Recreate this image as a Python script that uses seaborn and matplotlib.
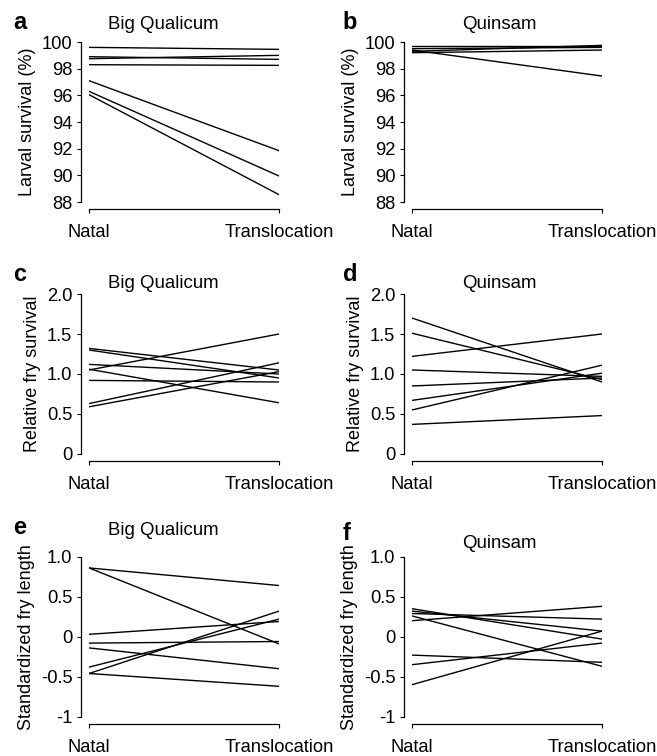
import pandas as pd
import matplotlib
matplotlib.use("Agg")
import matplotlib.pyplot as plt
import seaborn as sns

# ---- data: (natal, translocation) per family ----
sites = ["Natal", "Translocation"]

larval_bq_natal = [99.6, 98.9, 98.75, 98.3, 97.1, 96.3, 96.05]
larval_bq_trans = [99.45, 98.7, 99.0, 98.25, 91.85, 89.95, 88.55]

larval_qu_natal = [99.7, 99.5, 99.3, 99.2, 99.4]
larval_qu_trans = [99.7, 99.6, 99.75, 99.4, 97.45]

fry_bq_natal = [1.32, 1.30, 1.12, 1.05, 1.06, 0.92, 0.63, 0.59]
fry_bq_trans = [1.05, 0.95, 1.00, 1.50, 0.64, 0.90, 1.14, 1.03]

fry_qu_natal = [1.70, 1.51, 1.22, 1.05, 0.85, 0.67, 0.55, 0.37]
fry_qu_trans = [0.90, 0.93, 1.50, 0.97, 0.95, 1.01, 1.11, 0.48]

len_bq_natal = [0.86, 0.86, 0.03, -0.08, -0.14, -0.38, -0.46, -0.46]
len_bq_trans = [0.64, -0.09, 0.19, -0.06, -0.40, 0.22, 0.32, -0.62]

len_qu_natal = [0.35, 0.32, 0.29, 0.20, 0.26, -0.23, -0.35, -0.60]
len_qu_trans = [-0.03, 0.07, 0.22, 0.38, -0.37, -0.32, -0.08, 0.07]


def long_df(natal, trans):
    rows = []
    for i, (a, b) in enumerate(zip(natal, trans)):
        rows.append({"id": i, "site": sites[0], "value": a})
        rows.append({"id": i, "site": sites[1], "value": b})
    return pd.DataFrame(rows)


sns.set_style("ticks")
plt.rcParams['font.family'] = ['Liberation Sans', 'DejaVu Sans']
plt.rcParams['text.color'] = 'black'
plt.rcParams['axes.labelcolor'] = 'black'
plt.rcParams['xtick.color'] = 'black'
plt.rcParams['ytick.color'] = 'black'
plt.rcParams['axes.edgecolor'] = 'black'

fig = plt.figure(figsize=(6.57, 7.56), dpi=100)

# panel positions in figure fraction
lefts = [0.1355, 0.627]
bottoms = [0.7328, 0.3995, 0.052]
w, h = 0.2892, 0.2116

panels = [
    ("a", "Big Qualicum", larval_bq_natal, larval_bq_trans, "Larval survival (%)",
     (88, 100), [88, 90, 92, 94, 96, 98, 100], ["88", "90", "92", "94", "96", "98", "100"]),
    ("b", "Quinsam", larval_qu_natal, larval_qu_trans, "Larval survival (%)",
     (88, 100), [88, 90, 92, 94, 96, 98, 100], ["88", "90", "92", "94", "96", "98", "100"]),
    ("c", "Big Qualicum", fry_bq_natal, fry_bq_trans, "Relative fry survival",
     (0, 2), [0, 0.5, 1, 1.5, 2], ["0", "0.5", "1.0", "1.5", "2.0"]),
    ("d", "Quinsam", fry_qu_natal, fry_qu_trans, "Relative fry survival",
     (0, 2), [0, 0.5, 1, 1.5, 2], ["0", "0.5", "1.0", "1.5", "2.0"]),
    ("e", "Big Qualicum", len_bq_natal, len_bq_trans, "Standardized fry length",
     (-1, 1), [-1, -0.5, 0, 0.5, 1], ["-1", "-0.5", "0", "0.5", "1.0"]),
    ("f", "Quinsam", len_qu_natal, len_qu_trans, "Standardized fry length",
     (-1, 1), [-1, -0.5, 0, 0.5, 1], ["-1", "-0.5", "0", "0.5", "1.0"]),
]

title_y = [1.055, 1.055, 1.01, 1.01, 1.11, 1.03]
title_x = [0.39, 0.46, 0.39, 0.46, 0.39, 0.46]

for k, (letter, title, natal, trans, ylabel, ylim, yt, ytl) in enumerate(panels):
    row, col = divmod(k, 2)
    ax = fig.add_axes([lefts[col], bottoms[row], w, h])
    df = long_df(natal, trans)
    sns.lineplot(data=df, x="site", y="value", units="id", estimator=None,
                 color="black", linewidth=1.0, ax=ax)
    ax.set_xlim(0, 1)
    ax.set_ylim(*ylim)
    ax.set_xticks([0, 1])
    ax.set_yticks(yt)
    for s in ["left", "bottom"]:
        ax.spines[s].set_linewidth(0.9)
    sns.despine(ax=ax, offset={"left": 6, "bottom": 5}, trim=True)
    ax.set_xticks([0, 1])
    ax.set_xticklabels(sites)
    ax.set_yticks(yt)
    ax.set_yticklabels(ytl)
    ax.tick_params(length=3, width=0.8, pad=3, labelsize=13.2)
    ax.tick_params(axis="x", pad=8)
    ax.set_xlabel("")
    ax.set_ylabel(ylabel, fontsize=13, labelpad=4)
    ax.text(title_x[k], title_y[k], title, transform=ax.transAxes,
            ha="center", va="bottom", fontsize=13.4)

# panel letters
letter_pos = [(0.02, 0.985), (0.522, 0.985), (0.02, 0.652), (0.522, 0.652),
              (0.02, 0.318), (0.522, 0.31)]
for (x, y), letter in zip(letter_pos, "abcdef"):
    fig.text(x, y, letter, fontsize=17, fontweight="bold", ha="left", va="top")

plt.savefig("out.png", dpi=100)
